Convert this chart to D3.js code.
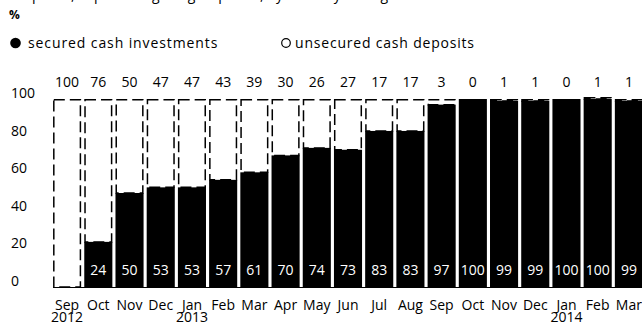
<!DOCTYPE html>
<html>
<head>
<meta charset="utf-8">
<script src="https://cdn.jsdelivr.net/npm/d3@7"></script>
<style>
  html, body { margin: 0; padding: 0; background: #fff; }
  svg { display: block; }
  text { font-family: "Open Sans", "Noto Sans", sans-serif; fill: #000; }
</style>
</head>
<body>
<svg id="chart" width="642" height="329"></svg>
<script>
// Monthly split of cash holdings, Sep 2012 – Mar 2014 (percent)
const months = ["Sep", "Oct", "Nov", "Dec", "Jan", "Feb", "Mar", "Apr", "May", "Jun",
                "Jul", "Aug", "Sep", "Oct", "Nov", "Dec", "Jan", "Feb", "Mar"];
const years = ["2012", "", "", "", "2013", "", "", "", "", "", "", "", "", "", "", "", "2014", "", ""];
const secured = [0, 24, 50, 53, 53, 57, 61, 70, 74, 73, 83, 83, 97, 100, 99, 99, 100, 100, 99];
const unsecured = [100, 76, 50, 47, 47, 43, 39, 30, 26, 27, 17, 17, 3, 0, 1, 1, 0, 1, 1];
const yTicks = [0, 20, 40, 60, 80, 100];

const svg = d3.select("#chart");
const ids = d3.range(months.length);
const fs = 14;

const x = d3.scaleBand().domain(ids).range([51.5, 644.5]).paddingInner(0.1).paddingOuter(0.05);
const y = d3.scaleLinear().domain([0, 100]).range([287, 99]);

// Subtitle line (runs off the top edge of the canvas)
svg.append("text").attr("x", 14).attr("y", -0.5).attr("font-size", fs)
  .text("Deposits, in percentage of group cash, by monthly average");

svg.append("text").attr("x", 9).attr("y", 19).attr("font-size", 12)
  .attr("font-weight", "bold").text("%");

// Legend
svg.append("circle").attr("cx", 15.5).attr("cy", 43).attr("r", 5.3).attr("fill", "#000");
svg.append("text").attr("x", 28).attr("y", 48).attr("font-size", fs)
  .attr("letter-spacing", 0.9).text("secured cash investments");
svg.append("circle").attr("cx", 286).attr("cy", 43).attr("r", 4.3).attr("fill", "#fff")
  .attr("stroke", "#000").attr("stroke-width", 1.2);
svg.append("text").attr("x", 295).attr("y", 48).attr("font-size", fs)
  .attr("letter-spacing", 0.8).text("unsecured cash deposits");

// Y axis labels (no tick lines)
svg.append("g").selectAll("text").data(yTicks).join("text")
  .attr("x", 11).attr("y", d => y(d) - 1)
  .attr("font-size", fs).text(d => d);

// Unsecured deposits: white stacked segment with dashed outline
svg.append("g").selectAll("rect").data(ids).join("rect")
  .attr("x", i => x(i) + 0.75)
  .attr("width", x.bandwidth() - 1.5)
  .attr("y", i => y(secured[i] + unsecured[i]) + 0.75)
  .attr("height", i => Math.max(0, y(secured[i]) - y(secured[i] + unsecured[i]) - 0.75))
  .attr("fill", "#fff").attr("stroke", "#000").attr("stroke-width", 1.5)
  .attr("stroke-dasharray", "11,5");

// Secured investments: black bars from the baseline
svg.append("g").selectAll("rect").data(ids).join("rect")
  .attr("x", i => x(i))
  .attr("width", x.bandwidth())
  .attr("y", i => y(secured[i]))
  .attr("height", i => y(0) - y(secured[i]))
  .attr("fill", "#000");

// Baseline
svg.append("line").attr("x1", x(0)).attr("x2", 642)
  .attr("y1", y(0) + 0.5).attr("y2", y(0) + 0.5)
  .attr("stroke", "#000").attr("stroke-width", 1);

// Unsecured values above the bars
svg.append("g").selectAll("text").data(ids).join("text")
  .attr("x", i => x(i) + x.bandwidth() / 2).attr("y", 87)
  .attr("text-anchor", "middle").attr("font-size", fs)
  .text(i => unsecured[i]);

// Secured values inside the bars
svg.append("g").selectAll("text").data(ids.filter(i => secured[i] > 0)).join("text")
  .attr("x", i => x(i) + x.bandwidth() / 2).attr("y", 275)
  .attr("text-anchor", "middle").attr("font-size", fs)
  .style("fill", "#fff")
  .text(i => secured[i]);

// Month labels, with the year on a second line where a year starts
const cat = svg.append("g").selectAll("text").data(ids).join("text")
  .attr("text-anchor", "middle").attr("font-size", fs)
  .attr("y", 310);
cat.append("tspan")
  .attr("x", i => x(i) + x.bandwidth() / 2)
  .text(i => months[i]);
cat.filter(i => years[i]).append("tspan")
  .attr("x", i => x(i) + x.bandwidth() / 2).attr("dy", 11.5)
  .text(i => years[i]);
</script>
</body>
</html>
